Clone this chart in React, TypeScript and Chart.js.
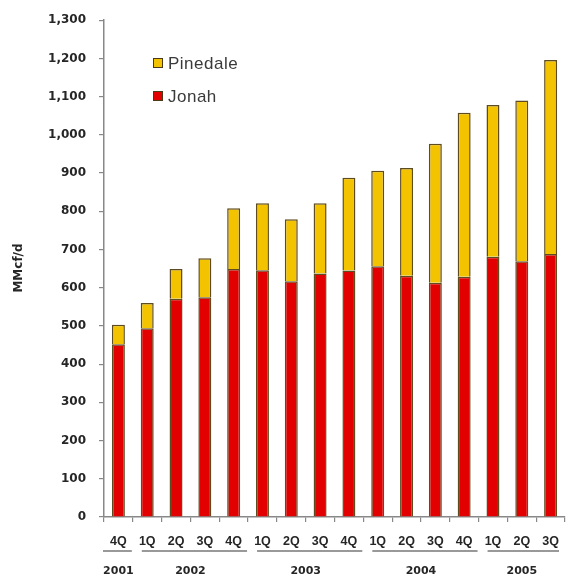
import React, { useEffect, useRef } from "react";
import { Chart, registerables } from "chart.js";

Chart.register(...registerables);

// Quarterly gas production, MMcf/d
const quarters = ["4Q", "1Q", "2Q", "3Q", "4Q", "1Q", "2Q", "3Q", "4Q", "1Q", "2Q", "3Q", "4Q", "1Q", "2Q", "3Q"];
const years = ["2001", "2002", "2003", "2004", "2005"];
// first and last quarter index belonging to each year
const yearStart = [0, 1, 5, 9, 13];
const yearEnd = [0, 4, 8, 12, 15];

const jonah = [452, 494, 571, 575, 649, 646, 617, 637, 645, 656, 631, 613, 629, 681, 669, 688];
const pinedale = [51, 66, 78, 102, 159, 175, 162, 184, 243, 250, 282, 364, 429, 397, 421, 508];

const yTicksMax = 1300;
const yStep = 100;

const RED = "#E30000";
const YELLOW = "#F4C300";
const EDGE = "#5e4b20";
const FONT = "'Liberation Sans', Arial, sans-serif";
const HEAVY = "'DejaVu Sans', Verdana, sans-serif";
const TEXT = "#262626";

const decorations = {
  id: "decorations",
  afterDraw(chart: any) {
    const { ctx, chartArea, scales } = chart;
    const x = scales.x;
    const catW = (chartArea.right - chartArea.left) / quarters.length;
    ctx.save();

    // year groups with underline
    ctx.font = `bold 11px ${HEAVY}`;
    ctx.fillStyle = TEXT;
    ctx.textAlign = "center";
    ctx.textBaseline = "middle";
    years.forEach((yr, i) => {
      const left = x.getPixelForValue(yearStart[i]) - catW / 2;
      const right = x.getPixelForValue(yearEnd[i]) + catW / 2;
      const x1 = yearStart[i] === yearEnd[i] ? left - 1 : left + 9;
      const x2 = i === years.length - 1 ? right - 6 : right - 1;
      ctx.strokeStyle = "#777";
      ctx.lineWidth = 1.5;
      ctx.beginPath();
      ctx.moveTo(x1, chartArea.bottom + 34);
      ctx.lineTo(x2, chartArea.bottom + 34);
      ctx.stroke();
      const cx = (x.getPixelForValue(yearStart[i]) + x.getPixelForValue(yearEnd[i])) / 2;
      ctx.fillText(yr, cx, chartArea.bottom + 54);
    });

    // y-axis title
    ctx.save();
    ctx.translate(19, 268);
    ctx.rotate(-Math.PI / 2);
    ctx.font = `bold 12px ${HEAVY}`;
    ctx.fillText("MMcf/d", 0, 0);
    ctx.restore();

    // legend
    const items = [
      { label: "Pinedale", color: YELLOW, y: 63 },
      { label: "Jonah", color: RED, y: 96 },
    ];
    ctx.textAlign = "left";
    ctx.font = `17px ${FONT}`;
    (ctx as any).letterSpacing = "0.5px";
    items.forEach((it) => {
      ctx.fillStyle = it.color;
      ctx.fillRect(153, it.y - 5, 10, 10);
      ctx.strokeStyle = "#4a3a18";
      ctx.lineWidth = 1;
      ctx.strokeRect(153.5, it.y - 4.5, 9, 9);
      ctx.fillStyle = "#3a3a3a";
      ctx.fillText(it.label, 168, it.y + 1);
    });
    ctx.restore();
  },
};

export default function App() {
  const ref = useRef<HTMLCanvasElement>(null);

  useEffect(() => {
    const chart = new Chart(ref.current!, {
      type: "bar",
      data: {
        labels: quarters,
        datasets: [
          {
            label: "Jonah",
            data: jonah,
            backgroundColor: RED,
            borderColor: EDGE,
            borderWidth: 1.5,
          },
          {
            label: "Pinedale",
            data: pinedale,
            backgroundColor: YELLOW,
            borderColor: EDGE,
            borderWidth: 1.5,
          },
        ],
      },
      options: {
        animation: false,
        responsive: false,
        devicePixelRatio: 1,
        layout: { padding: { top: 19, right: 1, left: 0, bottom: 0 } },
        datasets: { bar: { barPercentage: 0.45, categoryPercentage: 1 } },
        plugins: { legend: { display: false }, tooltip: { enabled: false } },
        scales: {
          x: {
            stacked: true,
            grid: { offset: true, drawOnChartArea: false, drawTicks: true, tickLength: 5, color: "#888", lineWidth: 1.2 },
            border: { color: "#888", width: 1.5 },
            ticks: { font: { family: FONT, size: 12.5, weight: "bold" }, color: TEXT, padding: 12, maxRotation: 0, autoSkip: false },
            afterFit(scale: any) {
              scale.height = 60;
              scale.paddingLeft = 0;
              scale.paddingRight = 0;
            },
          },
          y: {
            stacked: true,
            min: 0,
            max: yTicksMax,
            grid: { drawOnChartArea: false, drawTicks: true, tickLength: 5, color: "#888", lineWidth: 1.2 },
            border: { color: "#888", width: 1.5 },
            ticks: {
              stepSize: yStep,
              font: { family: HEAVY, size: 12, weight: "bold" },
              color: TEXT,
              padding: 13,
              callback: (v: any) => Number(v).toLocaleString("en-US"),
            },
            afterFit(scale: any) {
              scale.width = 104;
            },
          },
        },
      },
      plugins: [decorations],
    });
    return () => chart.destroy();
  }, []);

  return (
    <div style={{ position: "fixed", left: 0, top: 0, width: 566, height: 577, background: "#fff" }}>
      <canvas ref={ref} width={566} height={577} />
    </div>
  );
}
